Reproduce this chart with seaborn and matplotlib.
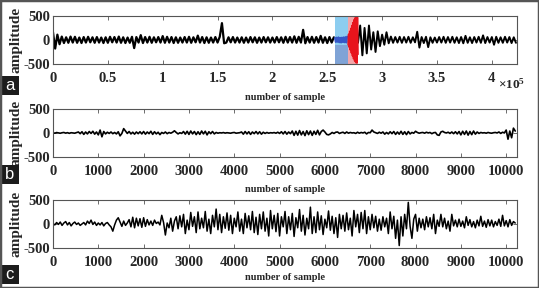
import numpy as np
import pandas as pd
import matplotlib
matplotlib.use("Agg")
import matplotlib.pyplot as plt
from matplotlib.patches import Rectangle
import seaborn as sns

# panel a: whole record, one value every 2000 samples
a_step = 2000
a_amp = [
    160, -180, 110, -90, 70, -65, 55, -60, 70, -55, 65, -60, 50, -65, 60, -55, 65, -50, 55, -60,
    60, -55, 50, -65, 55, -60, 65, -50, 60, -55, 70, -60, 55, -65, 50, -60, 65, -170, 60, -55,
    100, -65, 60, -55, 65, -60, 55, -50, 60, -55, 80, -60, 65, -55, 60, -65, 55, -60, 50, -55,
    60, -55, 65, -60, 55, -50, 90, -55, 60, -65, 55, -60, 50, -55, 60, -55, 65, 350, -70, -55,
    55, -50, 60, -55, 50, -55, 55, -60, 50, -55, 60, -50, 55, -60, 50, -55, 60, -50, 55, -55,
    50, -55, 60, -50, 55, -60, 65, -55, 60, -55, 75, -60, 65, -55, 210, -70, 60, -55, 65, -60,
    60, -55, 85, -60, 55, -65, 60, -55, 55, -55, 60, -55, 55, -60, 55, -55, 60, -55, 55, -60,
    300, -320, 250, -280, 300, -200, 160, -250, 180, -130, 110, -100, 160, -70, 70, -60, 60, -55, 65, -60,
    60, -55, 65, -60, 55, -50, 170, -160, 60, -65, 65, -150, 55, -60, 50, -55, 60, -55, 65, -60,
    60, -55, 65, -60, 55, -65, 60, -70, 85, -60, 55, -65, 60, -55, 65, -60, 95, -65, 60, -55,
    60, -100, 65, -60, 55, -60, 65, -55, 60, -65, 55, -60,
]
# onset (blue) and burst (red) windows, sampled finer
blue_window = (2.57e5, 2.69e5)
red_window = (2.69e5, 2.78e5)
blue_step = 800
blue_amp = [40, -45, 50, -40, 55, -50, 45, -55, 50, -45, 55, -50, 60, -55, 70]
red_step = 500
red_amp = [-100, 120, -150, 180, -210, 240, -270, 300, -330, 360, -390, 420, -440, 460, -470, 480, -480, 470, -300]

# panel b: one value every 40 samples
b_step = 40
b_amp = [
    5, -5, 8, 0, -6, 4, 10, -4, 6, -8, 5, 0, -5, 8, 20, -15,
    25, -30, 20, -20, 30, -10, 35, -25, 20, -40, 60, -80, 30, -20, 15, -10,
    20, -15, 10, -20, 25, -60, -10, 90, 40, -10, 30, -20, 15, -25, 20, -15,
    25, -20, 30, -25, 20, -15, 35, -30, 25, -20, 15, -35, 10, -10, 20, -15,
    10, -5, 15, 45, 10, -20, 5, -10, 30, -25, 35, -30, 40, -20, 30, -35,
    25, -30, 40, -20, 35, -40, 25, -15, 30, -20, 10, -5, 5, 0, 8, -3,
    5, 0, -5, 5, 10, -5, 0, 5, 20, -25, 30, -20, 25, -30, 20, -15,
    30, -20, 25, -25, 15, -10, 10, -5, 5, 0, 8, -5, 15, -10, 25, -20,
    30, -25, 20, -15, 40, -50, 35, -45, 50, -40, 30, -55, 45, -35, 40, -50,
    35, -30, 55, -40, 30, 60, 20, -30, -40, -20, 10, -10, 15, 20, -10, 5,
    15, -10, 20, -5, 10, 0, 5, -10, 15, -5, 10, 0, 15, -20, 10, 5,
    60, 20, 5, -10, 15, -5, 20, -25, 10, -20, 25, -15, 30, -30, 20, -25,
    35, -30, 25, -35, 30, -20, 10, -5, 35, 10, -5, 5, 10, -5, 15, 0,
    10, -15, 5, 10, -40, -50, 20, 35, 10, 0, 15, -10, 20, -15, 25, -20,
    30, -40, 35, -30, 40, -45, 30, -35, 40, -25, 20, -10, 10, 0, 5, -5,
    10, 0, -5, 5, 10, 0, 20, -10, 15, 0, 60, -130, 40, -100, 100, 40,
]

# panel c: one value every 40 samples
c_step = 40
c_amp = [
    10, -20, 30, -10, 40, -30, 20, 50, -20, 30, -40, 10, 40, -10, 20, -30,
    0, 30, -20, 60, 10, 80, -10, 40, -30, 20, -20, 30, -40, 10, 30, -20,
    -60, -150, -20, 80, 130, 40, -50, 60, -30, 20, 90, -60, 140, -80, 120, -40,
    110, -70, 130, -50, 90, -20, 60, -30, 80, 10, 40, -20, 180, 30, -230, 20,
    -80, 120, -150, 60, 150, -100, 170, -60, 200, -200, 80, -120, 240, -50, 150, -180,
    250, -100, 120, -80, 260, -150, 100, -200, 180, -60, 310, -120, 200, -180, 150, -90,
    230, -130, 180, -200, 120, -60, 250, -150, 100, -200, 220, -80, 170, -120, 260, -180,
    140, -220, 200, -100, 250, -150, 120, -250, 280, -100, 180, -160, 220, -250, 150, -60,
    260, -200, 150, -120, 220, -260, 130, -80, 300, -150, 180, -230, 120, -100, 350, -200,
    150, -180, 250, -120, 170, -220, 100, -80, 270, -130, 160, -200, 130, -280, 200, -100,
    180, -150, 230, -120, 120, -250, 280, -60, 200, -180, 240, -100, 280, -200, 150, -120,
    200, -80, 160, -150, 100, -130, 150, -60, 120, -200, 250, -100, 160, -300, 80, -450,
    150, -250, 200, -100, 450, -50, -300, 100, 200, -150, 120, -80, 100, -120, 150, -60,
    130, -100, 200, -200, 80, -50, 200, -60, 120, -100, 60, -150, 200, -40, 80, -60,
    100, -50, 60, -80, 150, -30, 90, -60, 50, -80, 80, -40, 160, -50, 60, -70,
    90, -40, 80, -60, 50, -30, 100, -50, 180, -40, 70, -60, 90, -30, 50, 20,
]

a_ticks = [0, 0.5e5, 1e5, 1.5e5, 2e5, 2.5e5, 3e5, 3.5e5, 4e5]
a_ticklabels = ["0", "0.5", "1", "1.5", "2", "2.5", "3", "3.5", "4"]
bc_ticks = list(range(0, 10001, 1000))

sns.set_style("ticks")
plt.rcParams["font.family"] = ["Liberation Serif", "DejaVu Serif"]
plt.rcParams["font.weight"] = "bold"
plt.rcParams["axes.unicode_minus"] = False
plt.rcParams["mathtext.fontset"] = "custom"
plt.rcParams["mathtext.rm"] = "Liberation Serif"

fig = plt.figure(figsize=(5.39, 2.88), dpi=100)
ax_a = fig.add_axes([0.0983, 0.778, 0.861, 0.1667])
ax_b = fig.add_axes([0.0983, 0.455, 0.861, 0.1667])
ax_c = fig.add_axes([0.0983, 0.139, 0.861, 0.1667])

# panel a
a = pd.DataFrame({"x": np.arange(len(a_amp)) * a_step, "y": a_amp})
ax_a.axvspan(*blue_window, color="#8ccdf0", lw=0)
ax_a.axvspan(*blue_window, ymin=0, ymax=0.4, color="#7fa3d6", lw=0)
ax_a.axvspan(*red_window, color="#f3a7aa", lw=0)
sns.lineplot(data=a[a.x <= blue_window[0]], x="x", y="y", ax=ax_a,
             color="black", lw=1.6, estimator=None)
sns.lineplot(data=a[a.x >= red_window[1]], x="x", y="y", ax=ax_a,
             color="black", lw=1.4, estimator=None)
bx = blue_window[0] + np.arange(len(blue_amp)) * blue_step
sns.lineplot(x=bx, y=blue_amp, ax=ax_a, color="#3558c8", lw=1.4, estimator=None)
rx = red_window[0] + np.arange(len(red_amp)) * red_step
sns.lineplot(x=rx, y=red_amp, ax=ax_a, color="#e8141c", lw=1.2, estimator=None)
ax_a.set_xlim(0, 4.23e5)
ax_a.set_xticks(a_ticks)
ax_a.set_xticklabels(a_ticklabels)
ax_a.text(0.958, -0.42, r"$\times\mathregular{10^5}$", transform=ax_a.transAxes,
          fontsize=9.5, va="center", ha="left")

# panels b and c
sns.lineplot(x=np.arange(len(b_amp)) * b_step, y=b_amp, ax=ax_b,
             color="black", lw=1.2, estimator=None)
sns.lineplot(x=np.arange(len(c_amp)) * c_step, y=c_amp, ax=ax_c,
             color="black", lw=1.1, estimator=None)
for ax in (ax_b, ax_c):
    ax.set_xlim(0, 10240)
    ax.set_xticks(bc_ticks)

xlab_y = {ax_a: -0.6, ax_b: -0.58, ax_c: -0.52}
for ax in (ax_a, ax_b, ax_c):
    ax.set_ylim(-500, 500)
    ax.set_yticks([-500, 0, 500])
    ax.tick_params(direction="in", length=3, top=True, right=True,
                   labelsize=10.5, width=0.6, color="#555555")
    ax.tick_params(axis="x", pad=6)
    ax.tick_params(axis="y", pad=2)
    for s in ax.spines.values():
        s.set_linewidth(0.8)
        s.set_color("#555555")
    ax.set_xlabel("number of sample", fontsize=7.5, fontweight="bold")
    ax.set_ylabel("amplitude", fontsize=11, fontweight="bold")
    ax.xaxis.set_label_coords(0.5, xlab_y[ax])
    ax.yaxis.set_label_coords(-0.066, 0.5)

# panel letters in dark boxes
for letter, y0 in (("a", 0.670), ("b", 0.361), ("c", 0.014)):
    fig.add_artist(Rectangle((0, y0), 19 / 539, 19 / 288, transform=fig.transFigure,
                             facecolor="#1c1c1c", edgecolor="none"))
    fig.text(9.5 / 539, y0 + 9.5 / 288, letter, color="white", fontsize=12,
             family="Liberation Sans", fontweight="normal", ha="center", va="center")

fig.add_artist(Rectangle((0, 0), 1, 1, transform=fig.transFigure, fill=False,
                         edgecolor="#555555", lw=2.5))

fig.savefig("out.png", dpi=100)
